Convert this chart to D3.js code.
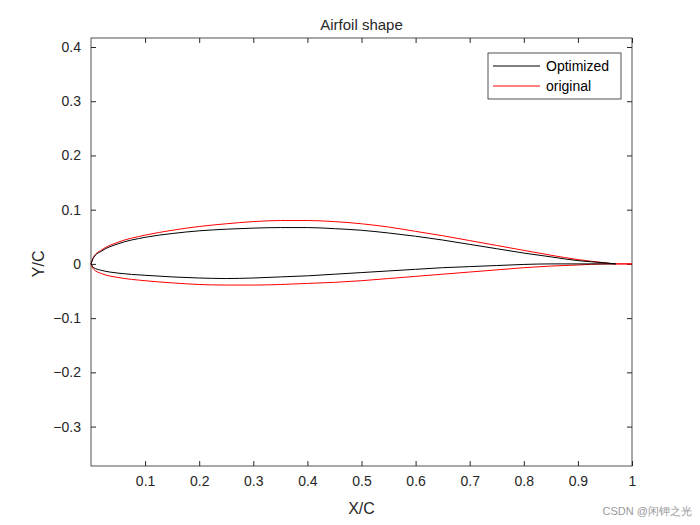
<!DOCTYPE html>
<html><head><meta charset="utf-8">
<script src="https://cdn.jsdelivr.net/npm/d3@7"></script>
<style>body{margin:0;background:#fff}text{font-family:"Liberation Sans",Arial,sans-serif}</style>
</head><body>
<svg id="c" width="700" height="525"></svg>
<script>
var xs = [0, 0.005, 0.02, 0.05, 0.1, 0.15, 0.2, 0.25, 0.3, 0.35, 0.4, 0.45, 0.5, 0.55, 0.6, 0.65, 0.7, 0.75, 0.8, 0.85, 0.9, 0.95, 0.97];
var optUpper = [0, 0.012, 0.024, 0.037, 0.049, 0.056, 0.061, 0.064, 0.066, 0.067, 0.067, 0.065, 0.062, 0.057, 0.051, 0.044, 0.036, 0.028, 0.020, 0.013, 0.006, 0.002, 0];
var optLower = [0, -0.007, -0.012, -0.017, -0.021, -0.024, -0.026, -0.027, -0.026, -0.024, -0.022, -0.019, -0.016, -0.013, -0.010, -0.007, -0.005, -0.003, -0.001, 0, 0, 0, 0];
var xo = [0, 0.005, 0.02, 0.05, 0.1, 0.15, 0.2, 0.25, 0.3, 0.35, 0.4, 0.45, 0.5, 0.55, 0.6, 0.65, 0.7, 0.75, 0.8, 0.85, 0.9, 0.95, 0.97, 1];
var origUpper = [0, 0.013, 0.026, 0.040, 0.053, 0.062, 0.069, 0.074, 0.078, 0.080, 0.080, 0.078, 0.074, 0.068, 0.060, 0.052, 0.043, 0.034, 0.025, 0.016, 0.008, 0.002, 0, 0];
var origLower = [0, -0.010, -0.018, -0.025, -0.031, -0.035, -0.038, -0.039, -0.039, -0.038, -0.036, -0.034, -0.031, -0.027, -0.023, -0.019, -0.015, -0.011, -0.007, -0.004, -0.002, 0, 0, 0];
var xTicks = [0.1, 0.2, 0.3, 0.4, 0.5, 0.6, 0.7, 0.8, 0.9, 1];
var yTicks = [-0.3, -0.2, -0.1, 0, 0.1, 0.2, 0.3, 0.4];

var svg = d3.select('#c');
var L = 91, R = 632, T = 38, B = 466;
var x = d3.scaleLinear().domain([0, 1]).range([L, R]);
var y = d3.scaleLinear().domain([-0.3727, 0.4166]).range([B, T]);

svg.append('rect').attr('x', L).attr('y', T).attr('width', R - L).attr('height', B - T)
  .attr('fill', 'none').attr('stroke', '#262626').attr('stroke-width', 0.8);

svg.append('g').attr('transform', 'translate(0,' + B + ')')
  .call(d3.axisBottom(x).tickValues(xTicks).tickSize(-5).tickPadding(10).tickFormat(d3.format('')));
svg.append('g').attr('transform', 'translate(' + L + ',0)')
  .call(d3.axisLeft(y).tickValues(yTicks).tickSize(-5).tickPadding(10).tickFormat(d3.format('')));
svg.append('g').attr('transform', 'translate(0,' + T + ')')
  .call(d3.axisTop(x).tickValues(xTicks).tickSize(-5).tickFormat(''));
svg.append('g').attr('transform', 'translate(' + R + ',0)')
  .call(d3.axisRight(y).tickValues(yTicks).tickSize(-5).tickFormat(''));
svg.selectAll('.domain').remove();
svg.selectAll('.tick line').attr('stroke', '#262626');
svg.selectAll('.tick text').attr('font-size', 14).attr('fill', '#262626');

function draw(xv, yv, color) {
  var line = d3.line().x(function(d, i){ return x(xv[i]); }).y(function(d){ return y(d); }).curve(d3.curveMonotoneX);
  svg.append('path').attr('d', line(yv)).attr('fill', 'none').attr('stroke', color).attr('stroke-width', 1);
}
draw(xo, origUpper, 'red');
draw(xo, origLower, 'red');
draw(xs, optUpper, 'black');
draw(xs, optLower, 'black');

svg.append('text').attr('x', (L + R) / 2).attr('y', 30).attr('text-anchor', 'middle')
  .attr('font-size', 15).attr('fill', '#262626').text('Airfoil shape');
svg.append('text').attr('x', (L + R) / 2).attr('y', 514).attr('text-anchor', 'middle')
  .attr('font-size', 16).attr('fill', '#262626').text('X/C');
svg.append('text').attr('transform', 'translate(44,' + y(0) + ') rotate(-90)').attr('text-anchor', 'middle')
  .attr('font-size', 16).attr('fill', '#262626').text('Y/C');

var lg = svg.append('g');
lg.append('rect').attr('x', 488).attr('y', 53).attr('width', 133).attr('height', 46)
  .attr('fill', '#fff').attr('stroke', '#262626').attr('stroke-width', 0.8);
[['Optimized', 'black', 66], ['original', 'red', 86]].forEach(function(e){
  lg.append('line').attr('x1', 493).attr('x2', 540).attr('y1', e[2]).attr('y2', e[2]).attr('stroke', e[1]);
  lg.append('text').attr('x', 546).attr('y', e[2] + 5).attr('font-size', 14).attr('fill', '#000').text(e[0]);
});

svg.append('text').attr('x', 692).attr('y', 515).attr('text-anchor', 'end')
  .attr('font-size', 11).attr('fill', '#999').text('CSDN @闲钾之光');
</script>
</body></html>
